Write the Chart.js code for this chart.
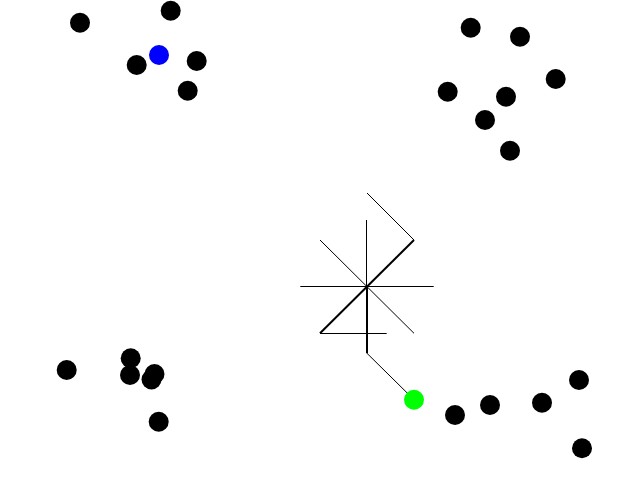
<!DOCTYPE html>
<html lang="en">
<head>
  <meta charset="UTF-8">
  <title>Points and lines</title>
  <script src="https://cdn.jsdelivr.net/npm/chart.js"></script>
  <style>
    body {
      margin: 0;
      background-color: #ffffff;
    }
    #plot {
      display: block;
    }
  </style>
</head>
<body>
  <canvas id="plot" width="640" height="480"></canvas>

  <script>
    // centred coordinates: x -320..320, y -240..240 (y up)
    const blackPoints = [
      [-240, 217.3], [-149.3, 229.3], [-183.3, 175], [-123.3, 179], [-132.3, 149.3],
      [150.7, 212.3], [200, 203.3], [235.7, 161], [127.7, 148.3], [186, 143.3], [165, 120], [190, 89.3],
      [-253.3, -130], [-189.3, -118.3], [-190, -135], [-165.5, -134], [-168.5, -139.5], [-161.3, -181.7],
      [135, -175], [170, -165], [222, -162.7], [259, -140], [262, -208.3]
    ];
    const bluePoints = [[-161, 185]];
    const greenPoints = [[94, -159.7]];

    // line paths
    const thinPaths = [
      [[47, 47], [94, 0]],
      [[0, -93.5], [66.7, -93.5]],
      [[0, 0], [94, -93.3]],
      [[-19.7, -46.5], [113.7, -46.5]],
      [[46.5, 20], [46.5, -46.7]],
      [[47, -113.3], [94, -159.7]]
    ];
    const thickPaths = [
      [[94, 0], [0, -93.3]],
      [[47, -46.7], [47, -113.3]]
    ];

    const toXY = arr => arr.map(p => ({ x: p[0], y: p[1] }));

    const pointSet = (pts, color) => ({
      data: toXY(pts),
      backgroundColor: color,
      borderColor: color,
      borderWidth: 0,
      pointRadius: 10,
      showLine: false
    });

    const lineSet = (path, width) => ({
      data: toXY(path),
      showLine: true,
      borderColor: '#000000',
      borderWidth: width,
      pointRadius: 0,
      fill: false
    });

    const datasets = [
      pointSet(greenPoints, '#00ff00'),
      pointSet(bluePoints, '#0000ff'),
      pointSet(blackPoints, '#000000')
    ]
      .concat(thickPaths.map(p => lineSet(p, 2)))
      .concat(thinPaths.map(p => lineSet(p, 1)));

    const ctx = document.getElementById('plot').getContext('2d');
    new Chart(ctx, {
      type: 'scatter',
      data: { datasets: datasets },
      options: {
        responsive: false,
        animation: false,
        layout: { padding: 0, autoPadding: false },
        plugins: {
          legend: { display: false },
          tooltip: { enabled: false }
        },
        scales: {
          x: { type: 'linear', min: -320, max: 320, display: false },
          y: { type: 'linear', min: -240, max: 240, display: false }
        }
      }
    });
  </script>
</body>
</html>
